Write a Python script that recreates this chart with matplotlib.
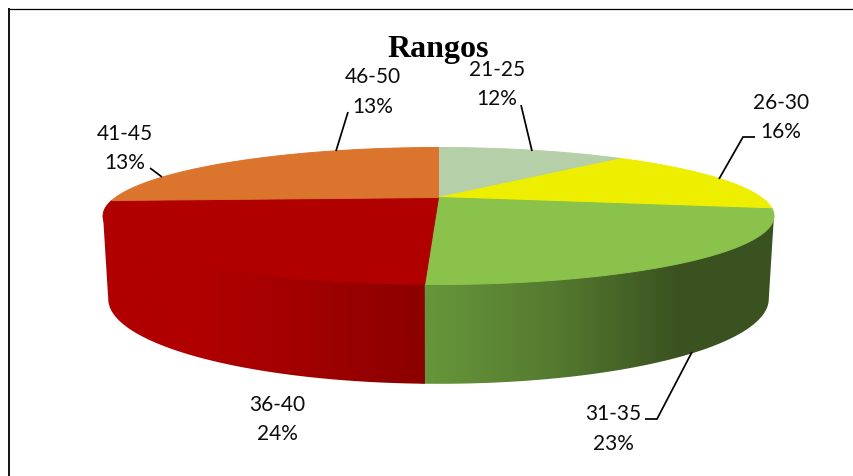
import numpy as np
import matplotlib
matplotlib.use("Agg")
import matplotlib.pyplot as plt
from matplotlib.patches import Polygon
from matplotlib.colors import LinearSegmentedColormap

title = "Rangos"
categories = ["21-25", "26-30", "31-35", "36-40", "41-45", "46-50"]
percents = [12, 16, 23, 24, 13, 13]
top_colors = ["#B5CFA8", "#EEEE00", "#8AC24B", "#B00000", "#DB742C", "#DB742C"]

W, H = 854, 477
CX = 438.5
K = 0.27
TOP = dict(a=323.0, b=63.5, y0=198.5)
BOT = dict(a=318.0, b=78.7, y0=277.0)


def project(deg, rim):
    t = np.radians(np.asarray(deg, dtype=float))
    u, v = np.sin(t), np.cos(t)
    d = 1 + K * v
    return np.column_stack([CX + rim["a"] * u / d, rim["y0"] - rim["b"] * v / d])


fig = plt.figure(figsize=(W / 100, H / 100), dpi=100, facecolor="white")
ax = fig.add_axes([0, 0, 1, 1])
ax.set_axis_off()

shares = np.array(percents, dtype=float)
edges = np.concatenate([[0], np.cumsum(shares) / shares.sum() * 360])

# visible front of the side wall: between the silhouette angles
sil = np.degrees(np.arccos(-K))
front = (sil, 360 - sil)

wall_ramps = {
    "31-35": (426, 680, ["#66963A", "#557A30", "#3A5220"]),
    "36-40": (200, 426, ["#B00000", "#A00000", "#8B0000"]),
}
for i, cat in enumerate(categories):
    if cat not in wall_ramps:
        continue
    a0, a1 = max(edges[i], front[0]), min(edges[i + 1], front[1])
    # the earlier wall runs slightly under the next one so no gap shows at the seam
    th = np.linspace(a0, a1 + (0.6 if a1 < front[1] else 0.0), 200)
    upper = project(th, TOP)
    upper[1:-1, 1] -= 4  # tucked behind the top face so its edge leaves no line
    outline = np.vstack([upper, project(th[::-1], BOT)])
    x0, x1, stops = wall_ramps[cat]
    cmap = LinearSegmentedColormap.from_list(cat, stops)
    xmin, xmax = outline[:, 0].min() - 6, outline[:, 0].max() + 6
    ymin, ymax = outline[:, 1].min() - 6, outline[:, 1].max() + 6
    grad = np.clip((np.linspace(xmin, xmax, 600) - x0) / (x1 - x0), 0, 1)[None, :]
    im = ax.imshow(grad, cmap=cmap, vmin=0, vmax=1, aspect="auto", interpolation="bilinear",
                   extent=(xmin, xmax, ymax, ymin), zorder=1 + i * 0.01)
    clip = Polygon(outline, closed=True, transform=ax.transData, fc="none", ec="none")
    ax.add_patch(clip)
    im.set_clip_path(clip)

for i, cat in enumerate(categories):
    th = np.linspace(edges[i], edges[i + 1], 120)
    pts = np.vstack([project([0], dict(TOP, a=0.0, b=0.0)), project(th, TOP)])
    ax.add_patch(Polygon(pts, closed=True, fc=top_colors[i], ec=top_colors[i], lw=0.7, zorder=2))

# leader lines
leaders = [
    [(521, 106), (532, 152)],
    [(755, 138), (743, 138), (719, 180)],
    [(692, 353), (657, 420), (645, 420)],
    [(150, 169), (162, 178)],
    [(348, 113), (336, 152)],
]
for ln in leaders:
    xs, ys = zip(*ln)
    ax.plot(xs, ys, color="black", lw=1.25, solid_capstyle="butt", solid_joinstyle="miter", zorder=3)

label_xy = {
    "21-25": (497, 70, 99),
    "26-30": (781, 103, 132),
    "31-35": (613, 414, 444),
    "36-40": (277, 405, 434),
    "41-45": (125, 134, 163),
    "46-50": (373, 77, 107),
}
for cat, pct in zip(categories, percents):
    x, y1, y2 = label_xy[cat]
    for y, s in ((y1, cat), (y2, f"{pct}%")):
        ax.text(x, y, s, ha="center", va="center", fontsize=15, family="Lato", color="#0c0c0c", zorder=5)

ax.text(438, 50, title, ha="center", va="center", fontsize=23, family="Liberation Serif",
        weight="bold", color="black", zorder=4)

# frame
ax.plot([9, W], [9.5, 9.5], color="black", lw=0.9, solid_capstyle="butt", zorder=6)
ax.plot([9, 9], [9, H], color="black", lw=1.3, solid_capstyle="butt", zorder=6)

ax.set_xlim(0, W)
ax.set_ylim(H, 0)
fig.savefig("out.png", dpi=100, facecolor="white")
